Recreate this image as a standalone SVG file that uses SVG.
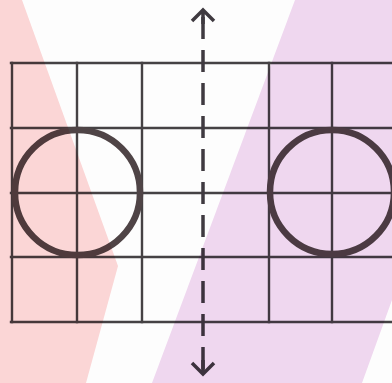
<svg xmlns="http://www.w3.org/2000/svg" width="392" height="383" viewBox="0 0 392 383">
  <style>
    .grid { stroke: #454244; stroke-width: 2.4; fill: none; stroke-linecap: square; }
    .circle { stroke: #4f4446; stroke-width: 6.5; fill: none; }
    .arrow { stroke: #3f3a40; stroke-width: 3.5; fill: none; }
    .tint { mix-blend-mode: multiply; }
  </style>
  <rect width="392" height="383" fill="#fdfdfd"/>
  <g id="grid">
    <path class="grid" d="M11 63H392M11 128H392M11 193H392M11 257H392M11 322H392"/>
    <path class="grid" d="M12 63V322M77 63V322M142 63V322M269 63V322M332 63V322"/>
  </g>
  <g id="circle-left">
    <circle class="circle" cx="77.5" cy="192.5" r="62.5"/>
  </g>
  <g id="circle-right">
    <circle class="circle" cx="332" cy="192" r="62"/>
  </g>
  <g id="connectors">
    <path class="arrow" d="M203 14V372" stroke-dasharray="22 11" stroke-dashoffset="-3"/>
    <path class="arrow" d="M203 10V24M192 21L203 10L214 21"/>
    <path class="arrow" d="M203 360V374M192 363L203 374L214 363"/>
  </g>
  <g id="tints">
    <polygon class="tint" fill="#fdd8d8" points="0,0 22,0 118,266 86,383 0,383"/>
    <polygon class="tint" fill="#f1d9f1" points="295,0 392,0 392,300 362,383 152,383"/>
  </g>
</svg>
